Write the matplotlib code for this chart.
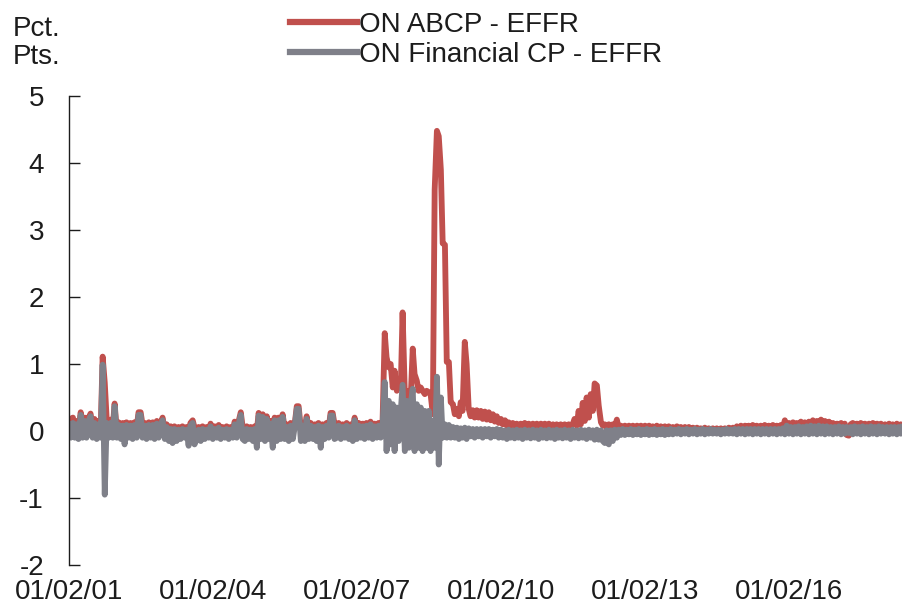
import matplotlib
matplotlib.use("Agg")
import matplotlib.pyplot as plt
import matplotlib.dates as mdates
from matplotlib.lines import Line2D
import pandas as pd

plt.rcParams['font.family'] = ['Liberation Sans', 'DejaVu Sans']
plt.rcParams['axes.unicode_minus'] = False

# Semi-monthly readings (1st and 15th of each month), percentage points
abcp_spread = {
    2001: [0.18, 0.0, 0.2, 0.02, 0.15, 0.0, 0.28, 0.05, 0.2, 0.0, 0.2, 0.26, 0.05, 0.18, 0.05, 0.15, 0.1, 1.11, 0.72, 0.2, 0.05, 0.17, 0.05, 0.41],
    2002: [0.0, 0.13, 0.0, 0.12, 0.0, 0.13, 0.0, 0.12, 0.02, 0.13, 0.05, 0.28, 0.28, 0.1, 0.12, 0.02, 0.13, 0.0, 0.13, 0.02, 0.15, 0.0, 0.13, 0.2],
    2003: [0.0, 0.1, 0.0, 0.07, 0.0, 0.07, 0.0, 0.06, 0.0, 0.07, 0.0, 0.06, 0.0, 0.12, 0.16, 0.05, 0.0, 0.06, 0.0, 0.07, 0.0, 0.06, 0.0, 0.11],
    2004: [0.0, 0.07, 0.0, 0.09, 0.0, 0.06, 0.0, 0.07, 0.0, 0.06, 0.0, 0.14, 0.05, 0.14, 0.28, 0.06, 0.0, 0.07, 0.0, 0.06, 0.0, 0.07, 0.0, 0.27],
    2005: [0.05, 0.25, 0.03, 0.22, 0.05, 0.15, 0.03, 0.2, 0.05, 0.2, 0.03, 0.25, 0.05, 0.1, 0.0, 0.12, 0.05, 0.1, 0.37, 0.37, 0.03, 0.12, 0.05, 0.22],
    2006: [0.03, 0.12, 0.0, 0.1, 0.03, 0.12, 0.0, 0.1, 0.03, 0.12, 0.05, 0.27, 0.27, 0.1, 0.03, 0.12, 0.0, 0.1, 0.03, 0.12, 0.0, 0.1, 0.03, 0.2],
    2007: [0.03, 0.12, 0.0, 0.11, 0.03, 0.12, 0.0, 0.14, 0.03, 0.11, 0.0, 0.12, 0.05, 0.1, 1.46, 1.1, 0.95, 1.0, 0.65, 0.9, 0.6, 0.75, 0.65, 1.77],
    2008: [0.55, 0.5, 0.6, 0.5, 1.23, 0.85, 0.75, 0.6, 0.65, 0.6, 0.55, 0.6, 0.58, 0.55, 0.25, 3.6, 4.48, 4.4, 3.9, 2.8, 2.78, 1.03, 1.03, 0.43],
    2009: [0.4, 0.25, 0.33, 0.22, 0.43, 0.3, 1.33, 1.0, 0.33, 0.22, 0.31, 0.2, 0.31, 0.2, 0.3, 0.18, 0.29, 0.17, 0.28, 0.16, 0.25, 0.14, 0.22, 0.12],
    2010: [0.18, 0.1, 0.16, 0.08, 0.13, 0.06, 0.12, 0.05, 0.11, 0.05, 0.11, 0.05, 0.12, 0.05, 0.11, 0.05, 0.11, 0.05, 0.11, 0.05, 0.11, 0.05, 0.11, 0.05],
    2011: [0.11, 0.05, 0.1, 0.05, 0.1, 0.04, 0.1, 0.05, 0.1, 0.04, 0.1, 0.05, 0.1, 0.18, 0.08, 0.3, 0.1, 0.42, 0.15, 0.5, 0.2, 0.55, 0.3, 0.71],
    2012: [0.68, 0.38, 0.13, 0.08, 0.1, 0.05, 0.1, 0.06, 0.1, 0.05, 0.17, 0.04, 0.08, 0.04, 0.08, 0.04, 0.08, 0.03, 0.08, 0.03, 0.08, 0.03, 0.08, 0.03],
    2013: [0.08, 0.03, 0.08, 0.03, 0.07, 0.03, 0.08, 0.03, 0.07, 0.03, 0.07, 0.02, 0.07, 0.03, 0.06, 0.02, 0.07, 0.02, 0.06, 0.02, 0.06, 0.02, 0.06, 0.02],
    2014: [0.05, 0.02, 0.05, 0.02, 0.04, 0.02, 0.05, 0.02, 0.04, 0.02, 0.04, 0.02, 0.04, 0.01, 0.04, 0.02, 0.04, 0.01, 0.05, 0.02, 0.05, 0.02, 0.07, 0.03],
    2015: [0.08, 0.03, 0.08, 0.04, 0.08, 0.03, 0.09, 0.04, 0.08, 0.03, 0.08, 0.04, 0.09, 0.03, 0.08, 0.04, 0.09, 0.03, 0.08, 0.04, 0.09, 0.05, 0.16, 0.08],
    2016: [0.12, 0.06, 0.13, 0.07, 0.12, 0.06, 0.14, 0.07, 0.13, 0.07, 0.14, 0.08, 0.16, 0.08, 0.15, 0.08, 0.17, 0.09, 0.15, 0.08, 0.14, 0.07, 0.12, 0.06],
    2017: [0.11, 0.06, 0.12, 0.06, 0.11, -0.06, -0.07, 0.1, 0.12, 0.06, 0.11, 0.06, 0.12, 0.06, 0.11, 0.06, 0.11, 0.05, 0.12, 0.06, 0.11, 0.06, 0.11, 0.06],
    2018: [0.1, 0.05, 0.11, 0.05, 0.1, 0.05, 0.11, 0.05, 0.1, 0.05],
}

fincp_spread = {
    2001: [0.1, -0.1, 0.12, -0.1, 0.1, -0.12, 0.24, -0.1, 0.15, -0.1, 0.15, 0.22, -0.1, 0.12, -0.12, 0.1, -0.1, 0.99, -0.95, 0.12, -0.1, 0.12, -0.1, 0.37],
    2002: [-0.1, 0.09, -0.12, 0.08, -0.2, 0.09, -0.1, 0.08, -0.12, 0.09, -0.1, 0.24, 0.24, -0.1, 0.08, -0.12, 0.09, -0.1, 0.09, -0.12, 0.11, -0.1, 0.09, 0.16],
    2003: [-0.12, 0.06, -0.15, 0.03, -0.18, 0.03, -0.15, 0.02, -0.12, 0.03, -0.1, 0.02, -0.22, 0.08, 0.12, -0.2, -0.12, 0.02, -0.15, 0.03, -0.12, 0.02, -0.1, 0.07],
    2004: [-0.12, 0.03, -0.1, 0.05, -0.12, 0.02, -0.1, 0.03, -0.12, 0.02, -0.1, 0.1, -0.1, 0.1, 0.24, -0.12, -0.15, 0.03, -0.12, 0.02, -0.15, 0.03, -0.25, 0.23],
    2005: [-0.12, 0.21, -0.15, 0.18, -0.12, 0.11, -0.25, 0.16, -0.15, 0.16, -0.12, 0.21, -0.12, 0.06, -0.15, 0.08, -0.12, 0.06, 0.33, 0.33, -0.15, 0.08, -0.15, 0.18],
    2006: [-0.12, 0.08, -0.12, 0.06, -0.15, 0.08, -0.25, 0.06, -0.12, 0.08, -0.1, 0.23, 0.23, -0.12, -0.1, 0.08, -0.12, 0.06, -0.1, 0.08, -0.12, 0.06, -0.15, 0.16],
    2007: [-0.12, 0.08, -0.1, 0.07, -0.12, 0.08, -0.1, 0.1, -0.12, 0.07, -0.1, 0.08, -0.1, 0.06, 0.73, -0.3, 0.45, -0.2, 0.4, -0.3, 0.35, -0.15, 0.3, 0.69],
    2008: [-0.3, 0.45, -0.25, 0.4, 0.63, -0.3, 0.4, -0.25, 0.35, -0.3, 0.3, -0.25, 0.3, -0.3, 0.15, -0.25, 0.81, -0.5, 0.5, -0.1, 0.1, -0.1, 0.09, -0.1],
    2009: [0.06, -0.1, 0.05, -0.12, 0.04, -0.1, 0.05, -0.12, 0.04, -0.08, 0.03, -0.1, 0.03, -0.08, 0.03, -0.1, 0.03, -0.08, 0.03, -0.1, 0.02, -0.08, 0.03, -0.1],
    2010: [0.02, -0.1, 0.01, -0.12, 0.02, -0.1, 0.01, -0.11, 0.02, -0.1, 0.01, -0.12, 0.02, -0.1, 0.01, -0.11, 0.02, -0.1, 0.01, -0.12, 0.02, -0.1, 0.01, -0.11],
    2011: [0.02, -0.1, 0.01, -0.12, 0.02, -0.1, 0.01, -0.11, 0.02, -0.1, 0.01, -0.12, 0.02, -0.1, 0.01, -0.11, 0.02, -0.1, 0.01, -0.12, 0.02, -0.1, 0.01, -0.13],
    2012: [0.02, -0.13, 0.01, -0.15, -0.18, 0.01, -0.2, 0.01, -0.15, 0.02, -0.1, 0.02, -0.06, 0.03, -0.06, 0.02, -0.05, 0.03, -0.06, 0.02, -0.05, 0.03, -0.06, 0.02],
    2013: [-0.05, 0.03, -0.06, 0.02, -0.05, 0.03, -0.06, 0.02, -0.05, 0.03, -0.06, 0.02, -0.05, 0.03, -0.05, 0.02, -0.04, 0.03, -0.05, 0.02, -0.04, 0.03, -0.05, 0.02],
    2014: [-0.04, 0.03, -0.05, 0.02, -0.04, 0.03, -0.05, 0.02, -0.04, 0.03, -0.04, 0.02, -0.04, 0.02, -0.05, 0.02, -0.04, 0.03, -0.04, 0.02, -0.04, 0.03, -0.05, 0.03],
    2015: [-0.04, 0.03, -0.05, 0.03, -0.04, 0.03, -0.05, 0.03, -0.04, 0.03, -0.05, 0.03, -0.04, 0.03, -0.05, 0.03, -0.04, 0.03, -0.05, 0.03, -0.04, 0.04, -0.05, 0.08],
    2016: [-0.04, 0.06, -0.05, 0.06, -0.04, 0.07, -0.05, 0.06, -0.04, 0.07, -0.05, 0.08, -0.04, 0.07, -0.05, 0.08, -0.04, 0.07, -0.05, 0.07, -0.04, 0.06, -0.05, 0.06],
    2017: [-0.04, 0.07, -0.05, 0.06, -0.04, 0.06, -0.03, 0.06, -0.05, 0.07, -0.04, 0.06, -0.05, 0.07, -0.04, 0.06, -0.05, 0.07, -0.04, 0.06, -0.05, 0.07, -0.04, 0.06],
    2018: [-0.04, 0.06, -0.05, 0.06, -0.04, 0.06, -0.05, 0.06, -0.04, 0.06],
}

series_labels = ["ON ABCP - EFFR", "ON Financial CP - EFFR"]
tick_years = [2001, 2004, 2007, 2010, 2013, 2016]
y_ticks = [-2, -1, 0, 1, 2, 3, 4, 5]


def build(d):
    dates, vals = [], []
    for y, row in d.items():
        dates.extend(pd.date_range(f"{y}-01-01", periods=len(row), freq="SMS"))
        vals.extend(row)
    return dates, vals


d_abcp, v_abcp = build(abcp_spread)
d_fin, v_fin = build(fincp_spread)

RED = "#C0504D"
GRAY = "#7F8089"
TXT = "#1c1c1c"

fig = plt.figure(figsize=(9.03, 6.07), dpi=100)
ax = fig.add_axes([69 / 903, 42 / 607, 834 / 903, 469 / 607])

ax.plot(d_abcp, v_abcp, color=RED, lw=4.2)
ax.plot(d_fin, v_fin, color=GRAY, lw=4.2)

ax.set_ylim(-2, 5)
ax.set_xlim(pd.Timestamp("2001-01-02"), pd.Timestamp("2018-05-18"))
ax.set_yticks(y_ticks)
ax.set_xticks([pd.Timestamp(f"{y}-01-02") for y in tick_years])
ax.xaxis.set_major_formatter(mdates.DateFormatter("%m/%d/%y"))

for s in ("top", "right", "bottom"):
    ax.spines[s].set_visible(False)
ax.spines["left"].set_color(TXT)
ax.spines["left"].set_linewidth(1.0)

ax.tick_params(axis="y", direction="in", length=8, width=1.0, color=TXT,
               pad=18, labelsize=20, labelcolor=TXT)
ax.tick_params(axis="x", length=0, pad=10, labelsize=20, labelcolor=TXT)

handles = [Line2D([], [], color=RED, lw=4.5), Line2D([], [], color=GRAY, lw=4.5)]
fig.legend(handles, series_labels, loc="upper left",
           bbox_to_anchor=(290 / 903, 1 - 12 / 607), frameon=False,
           fontsize=20, handlelength=2.4, handletextpad=0.1,
           labelspacing=0.15, borderpad=0, borderaxespad=0, labelcolor=TXT)

fig.text(13 / 903, 1 - 16 / 607, "Pct.\nPts.", ha="left", va="top",
         fontsize=20, color=TXT, linespacing=1.12)

fig.savefig("out.png", dpi=100)
